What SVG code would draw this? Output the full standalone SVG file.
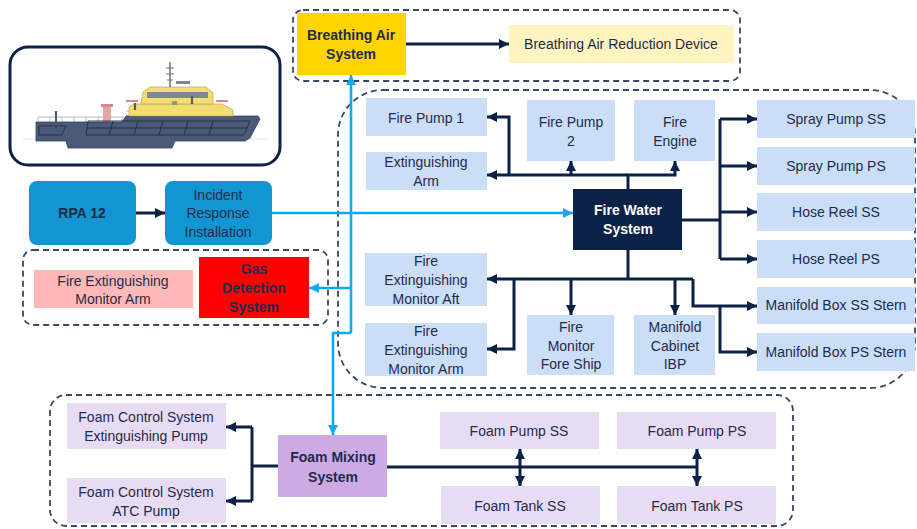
<svg xmlns="http://www.w3.org/2000/svg" width="917" height="529" viewBox="0 0 917 529">
  <style>
    .t { font-family: "Liberation Sans", Arial, sans-serif; font-size: 14px; fill: #1f2b4a; text-anchor: middle; }
    .b { font-weight: bold; }
    .w { fill: #ffffff; }
    .grp { fill: none; stroke: #3b4661; stroke-width: 1.8; stroke-dasharray: 6 4; }
    .lb { fill: #cbdef8; }
    .fm { fill: #e8dcf4; }
    .nv { fill: none; stroke: #0b2147; stroke-width: 3; }
    .cy { fill: none; stroke: #12aaee; stroke-width: 2.6; }
  </style>
  <defs>
    <marker id="an" viewBox="0 0 10 10" refX="10" refY="5" markerWidth="10" markerHeight="10" markerUnits="userSpaceOnUse" orient="auto-start-reverse">
      <path d="M0,0 L10,5 L0,10 z" fill="#0b2147"/>
    </marker>
    <marker id="ac" viewBox="0 0 10 10" refX="10" refY="5" markerWidth="11" markerHeight="10" markerUnits="userSpaceOnUse" orient="auto">
      <path d="M0,0 L10,5 L0,10 z" fill="#12aaee"/>
    </marker>
  </defs>

  <rect width="917" height="529" fill="#ffffff"/>

  <!-- group outlines -->
  <g id="groups">
    <rect class="grp" x="293" y="10" width="447" height="71" rx="10"/>
    <rect class="grp" x="338" y="90" width="577" height="298" rx="45"/>
    <rect class="grp" x="23" y="250" width="305" height="75" rx="10"/>
    <rect class="grp" x="50" y="395" width="743" height="131" rx="16"/>
  </g>

  <!-- vessel illustration -->
  <g id="vessel">
    <rect x="10" y="47" width="270" height="118" rx="18" fill="#ffffff" stroke="#0f2147" stroke-width="3"/>
    <line x1="23" y1="139" x2="268" y2="139" stroke="#e2e5ea" stroke-width="1"/>
    <path d="M38,117 H124 M38,117 V123 M50,117 V123 M62,117 V123 M74,117 V123 M86,117 V123 M98,117 V123 M110,117 V123 M122,117 V123" stroke="#a3abb5" stroke-width="0.8" fill="none"/>
    <path d="M126,111 H231" stroke="#a3abb5" stroke-width="0.8" fill="none"/>
    <rect x="103" y="104" width="8" height="18" fill="#e9a3a3"/>
    <rect x="101" y="104" width="12" height="3" fill="#d98888"/>
    <path d="M36,122 H122 L126,116 H258 L260,119 L250,138 L245,141 H175 L172,148 H68 L66,141 H36 Z" fill="#4b5a78" stroke="#34415c" stroke-width="0.8"/>
    <path d="M39,126 H66 L62,135 H39 Z M88,121 L86,135 M88,121 H250 L244,135 H86 M87,128 H247 M113,121 L109,135 M138,121 L134,135 M163,121 L159,135 M188,121 L184,135 M213,121 L209,135" fill="none" stroke="#1f2a40" stroke-width="0.9"/>
    <path d="M129,116 V107 L134,104 H222 L233,110 V116 Z" fill="#f3dd70" stroke="#b9a552" stroke-width="0.7"/>
    <path d="M141,104 L143,92 L150,87 H206 L213,93 V104 Z" fill="#f3dd70" stroke="#b9a552" stroke-width="0.7"/>
    <rect x="147" y="92" width="61" height="6" fill="#7f8796"/>
    <rect x="172" y="101" width="5" height="4" fill="#8a93a0"/>
    <line x1="170" y1="62" x2="170" y2="87" stroke="#6b7480" stroke-width="1.5"/>
    <path d="M166,68 H174 M166,74 H174 M167,80 H173" stroke="#6b7480" stroke-width="1.2"/>
    <rect x="176" y="81" width="14" height="3" fill="#7b8390"/>
    <path d="M126,101 H138 M216,101 H228" stroke="#d98888" stroke-width="2"/>
    <path d="M56,111 V122 M192,96 V104 M135,103 V110" stroke="#555c66" stroke-width="2.2"/>
  </g>

  <!-- connectors -->
  <g id="connectors">
    <path class="nv" d="M406,44 H509" marker-end="url(#an)"/>
    <path class="nv" d="M136,213 H165" marker-end="url(#an)"/>

    <path class="nv" d="M628,189 V175 H675 V161" marker-end="url(#an)"/>
    <path class="nv" d="M628,175 H487" marker-end="url(#an)"/>
    <path class="nv" d="M571,175 V161" marker-end="url(#an)"/>
    <path class="nv" d="M509,175 V117 H487" marker-end="url(#an)"/>

    <path class="nv" d="M682,220 H720"/>
    <path class="nv" d="M720,119 V259"/>
    <path class="nv" d="M720,119 H757" marker-end="url(#an)"/>
    <path class="nv" d="M720,166 H757" marker-end="url(#an)"/>
    <path class="nv" d="M720,212 H757" marker-end="url(#an)"/>
    <path class="nv" d="M720,259 H757" marker-end="url(#an)"/>

    <path class="nv" d="M628,250 V279"/>
    <path class="nv" d="M693,279 H487" marker-end="url(#an)"/>
    <path class="nv" d="M514,279 V349 H487" marker-end="url(#an)"/>
    <path class="nv" d="M571,279 V315" marker-end="url(#an)"/>
    <path class="nv" d="M675,279 V315" marker-end="url(#an)"/>
    <path class="nv" d="M693,279 V306 H757" marker-end="url(#an)"/>
    <path class="nv" d="M720,306 V352 H757" marker-end="url(#an)"/>

    <path class="nv" d="M278,466 H252"/>
    <path class="nv" d="M252,427 V501"/>
    <path class="nv" d="M252,427 H226" marker-end="url(#an)"/>
    <path class="nv" d="M252,501 H226" marker-end="url(#an)"/>
    <path class="nv" d="M387,467 H697"/>
    <path class="nv" d="M520,449 V486" marker-start="url(#an)" marker-end="url(#an)"/>
    <path class="nv" d="M697,449 V486" marker-start="url(#an)" marker-end="url(#an)"/>

    <path class="cy" d="M272,213 H573" marker-end="url(#ac)"/>
    <path class="cy" d="M351,333 V75" marker-end="url(#ac)"/>
    <path class="cy" d="M351,288 H309" marker-end="url(#ac)"/>
    <path class="cy" d="M351,333 H333 V435" marker-end="url(#ac)"/>
  </g>

  <!-- nodes -->
  <g id="breathing-air-system">
    <rect x="297" y="13" width="109" height="62" fill="#ffd400"/>
    <text class="t b" x="351" y="40">Breathing Air</text>
    <text class="t b" x="351" y="59">System</text>
  </g>
  <g id="breathing-air-reduction-device">
    <rect x="509" y="25" width="225" height="38" fill="#fff3bf"/>
    <text class="t" x="621" y="49">Breathing Air Reduction Device</text>
  </g>

  <g id="rpa-12">
    <rect x="29" y="181" width="107" height="64" rx="8" fill="#1296d1"/>
    <text class="t b" x="82" y="218">RPA 12</text>
  </g>
  <g id="incident-response-installation">
    <rect x="165" y="181" width="107" height="64" rx="8" fill="#1296d1"/>
    <text class="t" x="218" y="200">Incident</text>
    <text class="t" x="218" y="218">Response</text>
    <text class="t" x="218" y="237">Installation</text>
  </g>

  <g id="fire-extinguishing-monitor-arm-gas">
    <rect x="34" y="270" width="159" height="38" fill="#ffb8b8"/>
    <text class="t" x="113" y="286">Fire Extinguishing</text>
    <text class="t" x="113" y="304">Monitor Arm</text>
  </g>
  <g id="gas-detection-system">
    <rect x="199" y="257" width="110" height="61" fill="#ff0000"/>
    <text class="t b" x="254" y="274">Gas</text>
    <text class="t b" x="254" y="293">Detection</text>
    <text class="t b" x="254" y="312">System</text>
  </g>

  <g id="fire-water-system">
    <rect x="573" y="189" width="109" height="61" fill="#0b2147"/>
    <text class="t b w" x="628" y="215">Fire Water</text>
    <text class="t b w" x="628" y="234">System</text>
  </g>

  <g id="fire-pump-1">
    <rect class="lb" x="366" y="98" width="121" height="38"/>
    <text class="t" x="426" y="123">Fire Pump 1</text>
  </g>
  <g id="extinguishing-arm">
    <rect class="lb" x="366" y="152" width="121" height="38"/>
    <text class="t" x="426" y="167">Extinguishing</text>
    <text class="t" x="426" y="186">Arm</text>
  </g>
  <g id="fire-pump-2">
    <rect class="lb" x="527" y="100" width="88" height="61"/>
    <text class="t" x="571" y="127">Fire Pump</text>
    <text class="t" x="571" y="146">2</text>
  </g>
  <g id="fire-engine">
    <rect class="lb" x="634" y="100" width="81" height="61"/>
    <text class="t" x="675" y="127">Fire</text>
    <text class="t" x="675" y="146">Engine</text>
  </g>

  <g id="spray-pump-ss">
    <rect class="lb" x="757" y="100" width="158" height="38"/>
    <text class="t" x="836" y="124">Spray Pump SS</text>
  </g>
  <g id="spray-pump-ps">
    <rect class="lb" x="757" y="147" width="158" height="38"/>
    <text class="t" x="836" y="171">Spray Pump PS</text>
  </g>
  <g id="hose-reel-ss">
    <rect class="lb" x="757" y="193" width="158" height="38"/>
    <text class="t" x="836" y="217">Hose Reel SS</text>
  </g>
  <g id="hose-reel-ps">
    <rect class="lb" x="757" y="240" width="158" height="38"/>
    <text class="t" x="836" y="264">Hose Reel PS</text>
  </g>
  <g id="manifold-box-ss-stern">
    <rect class="lb" x="757" y="287" width="158" height="37"/>
    <text class="t" x="836" y="310">Manifold Box SS Stern</text>
  </g>
  <g id="manifold-box-ps-stern">
    <rect class="lb" x="757" y="333" width="158" height="38"/>
    <text class="t" x="836" y="357">Manifold Box PS Stern</text>
  </g>

  <g id="fire-extinguishing-monitor-aft">
    <rect class="lb" x="365" y="253" width="122" height="53"/>
    <text class="t" x="426" y="266">Fire</text>
    <text class="t" x="426" y="285">Extinguishing</text>
    <text class="t" x="426" y="304">Monitor Aft</text>
  </g>
  <g id="fire-extinguishing-monitor-arm">
    <rect class="lb" x="365" y="323" width="122" height="53"/>
    <text class="t" x="426" y="336">Fire</text>
    <text class="t" x="426" y="355">Extinguishing</text>
    <text class="t" x="426" y="374">Monitor Arm</text>
  </g>
  <g id="fire-monitor-fore-ship">
    <rect class="lb" x="527" y="315" width="87" height="60"/>
    <text class="t" x="571" y="332">Fire</text>
    <text class="t" x="571" y="351">Monitor</text>
    <text class="t" x="571" y="369">Fore Ship</text>
  </g>
  <g id="manifold-cabinet-ibp">
    <rect class="lb" x="634" y="315" width="81" height="60"/>
    <text class="t" x="675" y="332">Manifold</text>
    <text class="t" x="675" y="351">Cabinet</text>
    <text class="t" x="675" y="369">IBP</text>
  </g>

  <g id="foam-control-extinguishing-pump">
    <rect class="fm" x="67" y="403" width="159" height="46"/>
    <text class="t" x="146" y="422">Foam Control System</text>
    <text class="t" x="146" y="441">Extinguishing Pump</text>
  </g>
  <g id="foam-control-atc-pump">
    <rect class="fm" x="67" y="478" width="159" height="45"/>
    <text class="t" x="146" y="497">Foam Control System</text>
    <text class="t" x="146" y="516">ATC Pump</text>
  </g>
  <g id="foam-mixing-system">
    <rect x="278" y="435" width="109" height="62" fill="#cdaae4"/>
    <text class="t b" x="333" y="462">Foam Mixing</text>
    <text class="t b" x="333" y="482">System</text>
  </g>
  <g id="foam-pump-ss">
    <rect class="fm" x="440" y="412" width="159" height="37"/>
    <text class="t" x="519" y="436">Foam Pump SS</text>
  </g>
  <g id="foam-pump-ps">
    <rect class="fm" x="617" y="412" width="159" height="37"/>
    <text class="t" x="697" y="436">Foam Pump PS</text>
  </g>
  <g id="foam-tank-ss">
    <rect class="fm" x="441" y="486" width="159" height="38"/>
    <text class="t" x="520" y="511">Foam Tank SS</text>
  </g>
  <g id="foam-tank-ps">
    <rect class="fm" x="617" y="486" width="159" height="38"/>
    <text class="t" x="697" y="511">Foam Tank PS</text>
  </g>
</svg>
